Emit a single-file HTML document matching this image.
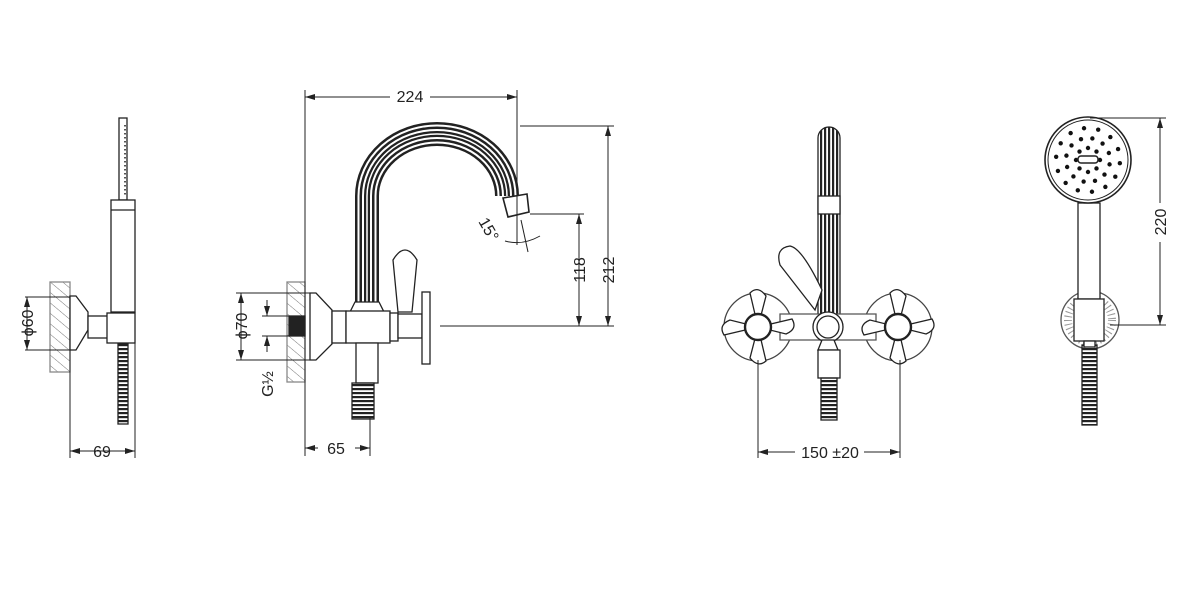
<!DOCTYPE html>
<html><head><meta charset="utf-8"><style>
html,body{margin:0;padding:0;background:#fff;width:1200px;height:594px;overflow:hidden}
svg{display:block}
text{font-family:"Liberation Sans",sans-serif;font-size:16px;fill:#222}
</style></head><body>
<svg id="s" width="1200" height="594" viewBox="0 0 1200 594" xmlns="http://www.w3.org/2000/svg">
<defs>
<marker id="a" markerWidth="10" markerHeight="6" refX="10" refY="3" orient="auto-start-reverse" markerUnits="userSpaceOnUse"><path d="M0,0 L10,3 L0,6 z" fill="#222"/></marker>
<pattern id="h" width="8" height="8" patternUnits="userSpaceOnUse" patternTransform="rotate(-50)"><line x1="0" y1="0" x2="0" y2="8" stroke="#777" stroke-width="1"/></pattern>
<pattern id="hose" width="4" height="4" patternUnits="userSpaceOnUse"><rect width="4" height="2.2" fill="#222"/></pattern>
<pattern id="rib" width="4" height="4" patternUnits="userSpaceOnUse"><rect width="2.2" height="4" fill="#222"/></pattern>
</defs>
<g fill="none" stroke="#222" stroke-width="1.3">
<!-- LEFT VIEW -->
<rect x="50" y="282" width="20" height="90" fill="url(#h)" stroke="#888"/>
<rect x="119" y="118" width="8" height="82" fill="#fff"/>
<line x1="125" y1="125" x2="125" y2="195" stroke="#555" stroke-dasharray="1.5 2.5" stroke-width="2"/>
<rect x="111" y="200" width="24" height="112" fill="#fff"/>
<line x1="111" y1="210" x2="135" y2="210"/>
<path d="M70,296 L76,296 L88,312 L88,330 L76,350 L70,350 Z" fill="#fff"/>
<rect x="88" y="316" width="22" height="22" fill="#fff"/>
<rect x="107" y="313" width="28" height="30" fill="#fff"/>
<rect x="118" y="344" width="10" height="80" fill="url(#hose)" stroke="#222"/>
<line x1="25" y1="297" x2="70" y2="297" stroke-width="1"/><line x1="25" y1="350" x2="70" y2="350" stroke-width="1"/>
<line x1="27" y1="297" x2="27" y2="350" stroke-width="1" marker-start="url(#a)" marker-end="url(#a)"/>
<line x1="70" y1="350" x2="70" y2="458" stroke-width="1"/><line x1="135" y1="343" x2="135" y2="458" stroke-width="1"/>
<line x1="70" y1="451" x2="135" y2="451" stroke-width="1" marker-start="url(#a)" marker-end="url(#a)"/>

<!-- MIDDLE VIEW -->
<rect x="287" y="282" width="18" height="100" fill="url(#h)" stroke="#888"/>
<rect x="289" y="316" width="16" height="20" fill="#222"/>
<g>
<path d="M367,302 L367,196 A70,62 0 0 1 507,196" stroke="#222" stroke-width="24"/>
<path d="M367,302 L367,196 A70,62 0 0 1 507,196" stroke="#fff" stroke-width="19"/>
<path d="M367,302 L367,196 A70,62 0 0 1 507,196" stroke="#222" stroke-width="15"/>
<path d="M367,302 L367,196 A70,62 0 0 1 507,196" stroke="#fff" stroke-width="10"/>
<path d="M367,302 L367,196 A70,62 0 0 1 507,196" stroke="#222" stroke-width="6"/>
<path d="M367,302 L367,196 A70,62 0 0 1 507,196" stroke="#fff" stroke-width="1.5"/>
</g>
<path d="M503,198 L527,194 L529,212 L508,217 Z" fill="#fff" stroke-width="1.6"/>
<path d="M355,302 L379,302 L384,312 L350,312 Z" fill="#fff"/>
<path d="M310,293 L316,293 L332,310 L332,344 L316,360 L310,360 Z" fill="#fff"/>
<rect x="332" y="311" width="14" height="32" fill="#fff"/>
<rect x="346" y="311" width="44" height="32" fill="#fff"/>
<rect x="390" y="313" width="8" height="28" fill="#fff"/>
<rect x="398" y="314" width="24" height="24" fill="#fff"/>
<rect x="422" y="292" width="8" height="72" fill="#fff"/>
<path d="M398,312 L393,260 Q405,240 417,260 L412,312 Z" fill="#fff"/>
<path d="M356,343 L378,343 L378,383 L356,383 Z" fill="#fff"/>
<rect x="352" y="383" width="22" height="36" fill="url(#hose)" stroke="#222"/>
<line x1="305" y1="90" x2="305" y2="456" stroke-width="1"/>
<line x1="517" y1="90" x2="517" y2="245" stroke-width="1"/>
<line x1="305" y1="97" x2="390" y2="97" stroke-width="1" marker-start="url(#a)"/>
<line x1="430" y1="97" x2="517" y2="97" stroke-width="1" marker-end="url(#a)"/>
<line x1="520" y1="126" x2="614" y2="126" stroke-width="1"/>
<line x1="530" y1="214" x2="584" y2="214" stroke-width="1"/>
<line x1="440" y1="326" x2="614" y2="326" stroke-width="1"/>
<line x1="608" y1="126" x2="608" y2="326" stroke-width="1" marker-start="url(#a)" marker-end="url(#a)"/>
<line x1="579" y1="214" x2="579" y2="326" stroke-width="1" marker-start="url(#a)" marker-end="url(#a)"/>
<line x1="521" y1="220" x2="528" y2="252" stroke-width="1"/>
<path d="M505,241 Q522,246 540,236" stroke-width="1"/>
<line x1="236" y1="293" x2="310" y2="293" stroke-width="1"/><line x1="236" y1="360" x2="310" y2="360" stroke-width="1"/>
<line x1="241" y1="293" x2="241" y2="360" stroke-width="1" marker-start="url(#a)" marker-end="url(#a)"/>
<line x1="262" y1="316" x2="289" y2="316" stroke-width="1"/><line x1="262" y1="336" x2="289" y2="336" stroke-width="1"/>
<line x1="267" y1="300" x2="267" y2="316" stroke-width="1" marker-end="url(#a)"/>
<line x1="267" y1="352" x2="267" y2="336" stroke-width="1" marker-end="url(#a)"/>
<line x1="370" y1="418" x2="370" y2="456" stroke-width="1"/>
<line x1="305" y1="448" x2="318" y2="448" stroke-width="1" marker-start="url(#a)"/>
<line x1="355" y1="448" x2="370" y2="448" stroke-width="1" marker-end="url(#a)"/>

<!-- RIGHT-CENTER VIEW -->
<rect x="818" y="127" width="22" height="198" rx="11" fill="url(#rib)" stroke="#222"/>
<rect x="818" y="196" width="22" height="18" fill="#fff"/>
<path d="M815,310 L780,265 Q775,248 790,246 Q802,248 822,290 Z" fill="#fff"/>
<circle cx="758" cy="327" r="34" fill="#fff" stroke="#444"/>
<circle cx="898" cy="327" r="34" fill="#fff" stroke="#444"/>
<path d="M780,314 L876,314 L876,340 L780,340 Z" fill="#fff" stroke="#555"/>
<path d="M758,327 L750,293 Q758,285 766,296 Z M758,327 L792,319 Q798,329 786,334 Z M758,327 L766,361 Q758,368 750,358 Z M758,327 L724,335 Q718,325 730,320 Z" fill="#fff"/>
<path d="M898,327 L890,293 Q898,285 906,296 Z M898,327 L932,319 Q938,329 926,334 Z M898,327 L906,361 Q898,368 890,358 Z M898,327 L864,335 Q858,325 870,320 Z" fill="#fff"/>
<circle cx="758" cy="327" r="13" fill="#fff" stroke-width="2.4"/>
<circle cx="898" cy="327" r="13" fill="#fff" stroke-width="2.4"/>
<circle cx="828" cy="327" r="15" fill="#fff"/>
<circle cx="828" cy="327" r="11" fill="#fff"/>
<path d="M822,340 L834,340 L838,350 L818,350 Z" fill="#fff"/>
<rect x="818" y="350" width="22" height="28" fill="#fff"/>
<rect x="821" y="378" width="16" height="42" fill="url(#hose)" stroke="#222"/>
<line x1="758" y1="360" x2="758" y2="458" stroke-width="1"/>
<line x1="900" y1="360" x2="900" y2="458" stroke-width="1"/>
<line x1="758" y1="452" x2="795" y2="452" stroke-width="1" marker-start="url(#a)"/>
<line x1="864" y1="452" x2="900" y2="452" stroke-width="1" marker-end="url(#a)"/>

<!-- RIGHT VIEW -->
<circle cx="1090" cy="320" r="29" fill="#fff" stroke="#555"/>
<circle cx="1090" cy="320" r="22" fill="none" stroke="#999" stroke-dasharray="1 3" stroke-width="8"/>
<rect x="1078" y="203" width="22" height="96" fill="#fff"/>
<rect x="1074" y="299" width="30" height="42" fill="#fff"/>
<rect x="1082" y="345" width="15" height="80" fill="url(#hose)" stroke="#222"/>
<rect x="1084" y="341" width="11" height="6" fill="#fff"/>
<circle cx="1088" cy="160" r="43" fill="#fff" stroke-width="1.6"/>
<circle cx="1088" cy="160" r="40" fill="none" stroke-width="1"/>
<g id="dots" fill="#111" stroke="none"></g>
<rect x="1078" y="156" width="20" height="7" rx="3" fill="#fff" stroke-width="1.5"/>
<line x1="1090" y1="118" x2="1166" y2="118" stroke-width="1"/>
<line x1="1110" y1="325" x2="1166" y2="325" stroke-width="1"/>
<line x1="1160" y1="118" x2="1160" y2="203" stroke-width="1" marker-start="url(#a)"/>
<line x1="1160" y1="242" x2="1160" y2="325" stroke-width="1" marker-end="url(#a)"/>
</g>
<text x="102" y="457" text-anchor="middle">69</text>
<text transform="translate(33,323) rotate(-90)" text-anchor="middle">ϕ60</text>
<text x="410" y="102" text-anchor="middle">224</text>
<text x="336" y="454" text-anchor="middle">65</text>
<text transform="translate(614,270) rotate(-90)" text-anchor="middle">212</text>
<text transform="translate(585,270) rotate(-90)" text-anchor="middle">118</text>
<text transform="translate(247,326) rotate(-90)" text-anchor="middle">ϕ70</text>
<text transform="translate(273,384) rotate(-90)" text-anchor="middle">G½</text>
<text transform="translate(484,232) rotate(60)" text-anchor="middle" font-size="15">15°</text>
<text x="830" y="458" text-anchor="middle">150 ±20</text>
<text transform="translate(1166,222) rotate(-90)" text-anchor="middle">220</text>
</svg>
<script>
var g=document.getElementById('dots'),cx=1088,cy=160,ns='http://www.w3.org/2000/svg';
[[12,8,0],[22,12,0.2],[32,14,0.1]].forEach(function(r){for(var i=0;i<r[1];i++){var a=i/r[1]*2*Math.PI+r[2];var c=document.createElementNS(ns,'circle');c.setAttribute('cx',cx+r[0]*Math.cos(a));c.setAttribute('cy',cy+r[0]*Math.sin(a));c.setAttribute('r',2.2);g.appendChild(c);}});
</script>
</body></html>
